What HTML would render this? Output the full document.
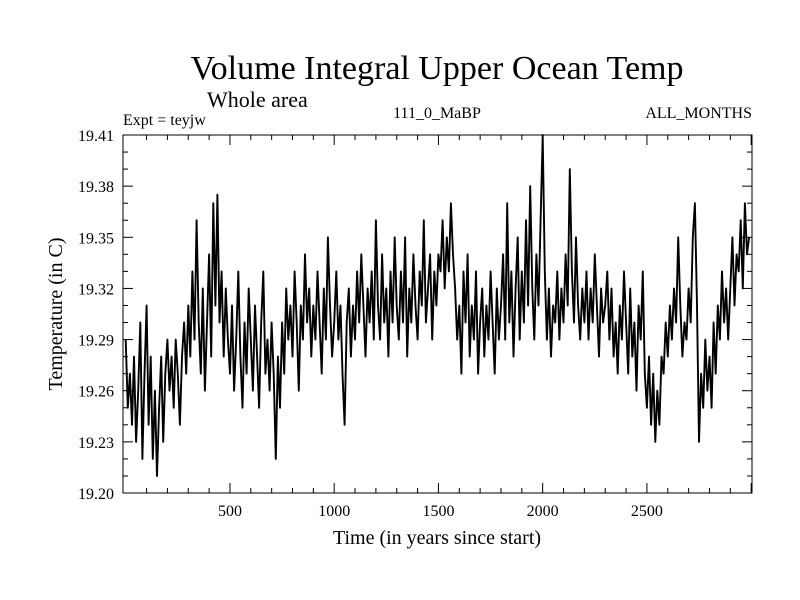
<!DOCTYPE html>
<html><head><meta charset="utf-8"><style>
html,body{margin:0;padding:0;background:#fff;width:800px;height:600px;overflow:hidden}
svg text{font-family:"Liberation Serif",serif;fill:#000}
</style></head><body>
<svg id="chart" width="800" height="600">
<text x="437" y="79" font-size="34" text-anchor="middle">Volume Integral Upper Ocean Temp</text>
<text x="207" y="107" font-size="22">Whole area</text>
<text x="123" y="125" font-size="16">Expt = teyjw</text>
<text x="437" y="118" font-size="16" text-anchor="middle">111_0_MaBP</text>
<text x="752" y="118" font-size="16" text-anchor="end">ALL_MONTHS</text>
<text x="437" y="544" font-size="20" text-anchor="middle">Time (in years since start)</text>
<text transform="translate(62,314) rotate(-90)" font-size="20" text-anchor="middle">Temperature (in C)</text>
<g id="axes"></g>
<path id="series" fill="none" stroke="#000" stroke-width="1.9" stroke-linejoin="round"></path>
<rect x="123" y="135" width="629" height="358" fill="none" stroke="#000" stroke-width="1"></rect>
</svg>
<script>
const xTicks=[500,1000,1500,2000,2500];
const yTicks=[19.20,19.23,19.26,19.29,19.32,19.35,19.38,19.41];
const startYear=0;
const stepYears=10;
const temps=[
19.29,19.25,19.27,19.24,19.28,19.23,19.26,19.30,19.22,19.27,
19.31,19.24,19.28,19.22,19.26,19.21,19.25,19.28,19.23,19.27,
19.29,19.26,19.28,19.25,19.29,19.27,19.24,19.28,19.30,19.27,
19.31,19.28,19.33,19.29,19.36,19.30,19.27,19.32,19.26,19.30,
19.34,19.28,19.37,19.31,19.375,19.30,19.33,19.28,19.32,19.29,
19.27,19.31,19.26,19.29,19.33,19.28,19.25,19.30,19.27,19.32,
19.29,19.26,19.31,19.28,19.25,19.30,19.33,19.27,19.29,19.26,
19.30,19.27,19.22,19.28,19.25,19.30,19.27,19.32,19.29,19.31,
19.28,19.33,19.30,19.26,19.31,19.29,19.34,19.30,19.32,19.28,
19.31,19.29,19.33,19.30,19.27,19.32,19.29,19.35,19.31,19.28,
19.30,19.33,19.29,19.31,19.27,19.24,19.30,19.32,19.28,19.31,
19.29,19.33,19.30,19.34,19.31,19.28,19.32,19.30,19.33,19.29,
19.36,19.31,19.29,19.34,19.30,19.32,19.28,19.33,19.30,19.35,
19.31,19.29,19.33,19.30,19.35,19.28,19.32,19.30,19.34,19.31,
19.29,19.33,19.31,19.36,19.30,19.32,19.34,19.29,19.33,19.31,
19.34,19.33,19.36,19.32,19.35,19.33,19.37,19.34,19.32,19.29,
19.31,19.27,19.33,19.30,19.34,19.28,19.31,19.29,19.33,19.27,
19.30,19.32,19.28,19.31,19.29,19.33,19.30,19.27,19.32,19.29,
19.31,19.34,19.29,19.37,19.30,19.33,19.28,19.32,19.35,19.29,
19.33,19.30,19.36,19.31,19.38,19.32,19.29,19.34,19.31,19.36,
19.41,19.33,19.29,19.32,19.28,19.31,19.30,19.33,19.29,19.32,
19.30,19.34,19.31,19.39,19.33,19.30,19.35,19.31,19.29,19.32,
19.30,19.33,19.29,19.32,19.30,19.34,19.31,19.28,19.32,19.30,
19.31,19.33,19.29,19.32,19.28,19.30,19.27,19.31,19.29,19.33,
19.30,19.27,19.32,19.28,19.30,19.26,19.31,19.29,19.33,19.27,
19.25,19.28,19.24,19.27,19.23,19.26,19.24,19.28,19.27,19.30,
19.28,19.31,19.29,19.32,19.30,19.35,19.31,19.28,19.30,19.29,
19.32,19.30,19.35,19.37,19.31,19.23,19.27,19.25,19.29,19.26,
19.28,19.25,19.30,19.27,19.31,19.29,19.33,19.30,19.32,19.29,
19.32,19.35,19.31,19.34,19.33,19.36,19.32,19.37,19.34,19.35];
const L=123,R=752,T=135,B=493,X0=-13,X1=3004,Y0=19.20,Y1=19.41;
function sx(v){return L+(v-X0)/(X1-X0)*(R-L);}
function sy(v){return B-(v-Y0)/(Y1-Y0)*(B-T);}
const NS='http://www.w3.org/2000/svg';
const ax=document.getElementById('axes');
function line(x1,y1,x2,y2,name){const l=document.createElementNS(NS,'line');
l.setAttribute('x1',x1);l.setAttribute('y1',y1);l.setAttribute('x2',x2);l.setAttribute('y2',y2);
l.setAttribute('stroke','#000');l.setAttribute('stroke-width','1');


ax.appendChild(l);}
function txt(x,y,s,anchor,name){const t=document.createElementNS(NS,'text');
t.setAttribute('x',x);t.setAttribute('y',y);t.setAttribute('font-size','16');t.setAttribute('text-anchor',anchor);t.textContent=s;


ax.appendChild(t);}
for(let yr=100;yr<=3000;yr+=100){const x=sx(yr);const major=yr%500===0;const len=major?10:5;
line(x,B,x,B-len,'x-tick');line(x,T,x,T+len,'x-tick-top');}
xTicks.forEach(v=>txt(sx(v),516,String(v),'middle','x-tick-label'));
for(let k=0;k<=21;k++){const v=Y0+k*0.01;const y=sy(v);const major=k%3===0;const len=major?10:5;
line(L,y,L+len,y,'y-tick');line(R,y,R-len,y,'y-tick-right');}
yTicks.forEach(v=>txt(114,sy(v)+6,v.toFixed(2),'end','y-tick-label'));
let d='';temps.forEach((v,i)=>{const yr=startYear+i*stepYears;d+=(i?'L':'M')+sx(yr).toFixed(1)+','+sy(v).toFixed(1);});
document.getElementById('series').setAttribute('d',d);
</script>
</body></html>
